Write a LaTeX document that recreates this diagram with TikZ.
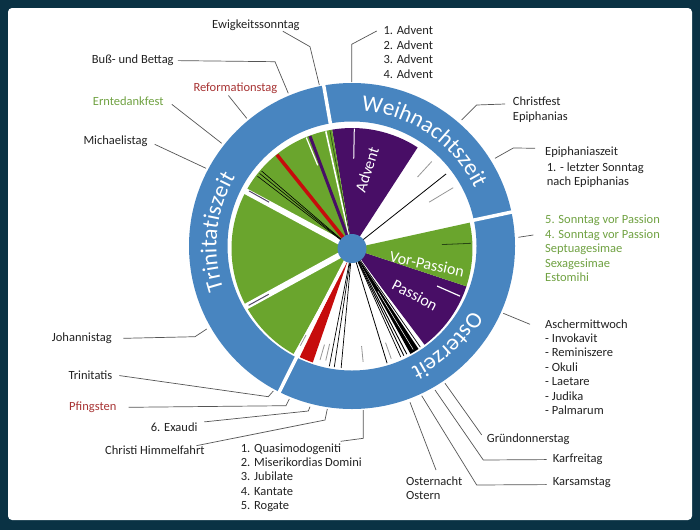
\documentclass[tikz,border=0pt]{standalone}
\usepackage{fontspec}
\setmainfont{Carlito}
\usetikzlibrary{decorations.text}
\definecolor{frameblue}{RGB}{10,50,68}
\definecolor{ringblue}{RGB}{72,133,192}
\definecolor{pgreen}{RGB}{106,165,45}
\definecolor{ppurple}{RGB}{72,14,102}
\definecolor{pred}{RGB}{198,12,12}
\definecolor{txtdark}{RGB}{34,34,34}
\definecolor{txtgreen}{RGB}{112,162,66}
\definecolor{txtred}{RGB}{168,52,52}
\definecolor{leadgray}{RGB}{85,85,85}
\definecolor{tickgray}{RGB}{150,150,150}
\definecolor{tickdark}{RGB}{80,70,100}
\definecolor{darkgreen}{RGB}{40,70,20}
\newcommand\pieSector[3]{\fill[#1] (352,248.5) -- ([pc]#2:120.5pt) arc[start angle=#2,end angle=#3,radius=120.5pt] -- cycle;}
\newcommand\pieRay[4]{\draw[#1] ([pc]#2:#3pt) -- ([pc]#2:#4pt);}
\newcommand\ringGap[1]{\draw[white,line width=3.5pt] ([rc]#1:121pt) -- ([rc]#1:166pt);}
\begin{document}
\begin{tikzpicture}[x=1pt,y=-1pt,
  pc/.style={shift={(352,248.5)}},
  rc/.style={shift={(352,246)}},
  lbl/.style={anchor=north west,inner sep=0pt,font=\fontsize{12.5}{14.4}\selectfont,text=txtdark,align=left},
  lead/.style={draw=leadgray,line width=0.7pt},
  pietext/.style={text=white,font=\fontsize{16}{16}\selectfont,inner sep=0pt},
  ringtext/.style={decorate,decoration={text along path,text align=center,text color=white,text={|\fontsize{23}{23}\selectfont|#1}}}
]
\useasboundingbox (0,0) rectangle (700,530);
% frame
\fill[frameblue] (0,0) rectangle (700,530);
\fill[white,rounded corners=4pt] (8,8) rectangle (692,520);

% outer ring
\fill[ringblue,even odd rule] (352,246) circle[radius=163pt] (352,246) circle[radius=124.5pt];
\ringGap{12}
\ringGap{100}
\ringGap{243.5}
\path[ringtext=Weihnachtszeit] ([rc]99:135.5pt) arc[start angle=99,end angle=12,radius=135.5pt];
\path[ringtext=Trinitatiszeit] ([rc]221:135.5pt) arc[start angle=221,end angle=127,radius=135.5pt];
\path[ringtext=Osterzeit] ([rc]-16:135.5pt) arc[start angle=-16,end angle=-76.6,radius=135.5pt];

% pie sectors
\pieSector{ppurple}{57}{99.5}
\pieSector{pgreen}{99.5}{152}
\pieSector{pgreen}{152}{209}
\pieSector{pgreen}{209}{241}
\pieSector{pred}{244.3}{251}
\pieSector{black}{-61}{-56.5}
\pieSector{ppurple}{-53}{-18.3}
\pieSector{pgreen}{-18.3}{12.4}

% white bands and separators
\pieRay{white,line width=6pt}{151.7}{0}{122}
\pieRay{white,line width=6pt}{-151.3}{0}{122}
\pieRay{white,line width=3.5pt}{-117.4}{0}{122}
\pieRay{white,line width=1.5pt}{-54.2}{0}{122}
\pieRay{tickdark,line width=1pt}{150.8}{95}{118}
\pieRay{tickdark,line width=1pt}{-151.2}{95}{118}

% upper-left cluster
\pieRay{black,line width=0.6pt}{139.4}{0}{119}
\pieRay{black,line width=0.6pt}{140.9}{0}{119}
\pieRay{black,line width=0.6pt}{142.6}{0}{119}
\pieRay{pred,line width=3.5pt}{128.7}{0}{120}
\pieRay{ppurple,line width=3pt}{110.5}{0}{120}
\pieRay{white,line width=1.2pt}{112.4}{90}{120}
\pieRay{white,line width=1.6pt}{102.6}{0}{120}
\pieRay{darkgreen,line width=0.6pt}{100.6}{0}{120}

% Weihnachtszeit white sector and ticks
\pieRay{black,line width=0.8pt}{38.4}{0}{120}
\pieRay{tickgray,line width=0.8pt}{47.5}{97}{118}
\pieRay{tickgray,line width=0.8pt}{31}{90}{118}
\pieRay{white,line width=1pt}{88.9}{90}{120}
\pieRay{darkgreen,line width=0.8pt}{2.5}{90}{119}
\pieRay{white,line width=1.2pt}{-23.8}{93}{118}

% Karwoche cluster and Osterzeit
\pieRay{black,line width=0.7pt}{-55.3}{0}{120}
\pieRay{white,line width=0.5pt}{-58.8}{50}{118}
\pieRay{black,line width=0.9pt}{-62.6}{0}{119}
\pieRay{black,line width=0.9pt}{-64.2}{0}{119}
\pieRay{black,line width=0.7pt}{-65.8}{0}{119}
\pieRay{tickgray,line width=0.8pt}{-70.4}{100}{117}
\pieRay{black,line width=0.8pt}{-73}{0}{120}
\pieRay{tickgray,line width=0.8pt}{-84.4}{98}{114}
\pieRay{black,line width=0.7pt}{-95.2}{0}{120}
\pieRay{black,line width=0.7pt}{-98.5}{0}{120}
\pieRay{black,line width=0.7pt}{-100.9}{0}{120}
\pieRay{tickgray,line width=0.8pt}{-103.2}{98}{115}
\pieRay{tickgray,line width=0.8pt}{-106}{100}{116}
\pieRay{tickgray,line width=0.8pt}{-118}{98}{110}

% center hub
\fill[ringblue] (352,248.5) circle[radius=14.5pt];

% pie texts
\node[pietext,rotate=72] (adv) at (367,170) {Advent};
\node[pietext,rotate=-12] (vorp) at (427,264) {Vor-Passion};
\node[pietext,rotate=-28] (pass) at (415,295) {Passion};

% labels
\node[lbl] (ewig) at (212,20) {Ewigkeitssonntag};
\node[lbl] (buss) at (91.7,55) {Buß- und Bettag};
\node[lbl,text=txtred] (refo) at (193.3,82.3) {Reformationstag};
\node[lbl,text=txtgreen] (ernte) at (92.7,96.7) {Erntedankfest};
\node[lbl] (mich) at (83.3,135.7) {Michaelistag};
\node[lbl] (advent) at (383.3,26) {1. Advent\\2. Advent\\3. Advent\\4. Advent};
\node[lbl,font=\fontsize{12.5}{15}\selectfont] (christ) at (512.7,96.7) {Christfest\\Epiphanias};
\node[lbl] (epz) at (545,146.7) {Epiphaniaszeit};
\node[lbl] (epl) at (546.7,162.7) {1. - letzter Sonntag\\nach Epiphanias};
\node[lbl,text=txtgreen] (vorpl) at (545,215) {5. Sonntag vor Passion\\4. Sonntag vor Passion\\Septuagesimae\\Sexagesimae\\Estomihi};
\node[lbl] (asch) at (545,319.3) {Aschermittwoch\\- Invokavit\\- Reminiszere\\- Okuli\\- Laetare\\- Judika\\- Palmarum};
\node[lbl] (gruen) at (486.7,433.3) {Gründonnerstag};
\node[lbl] (karf) at (552.7,454) {Karfreitag};
\node[lbl] (kars) at (552.7,477.3) {Karsamstag};
\node[lbl] (ostn) at (406,476.7) {Osternacht\\Ostern};
\node[lbl] (joh) at (51.7,332.7) {Johannistag};
\node[lbl] (trin) at (68.3,371) {Trinitatis};
\node[lbl,text=txtred] (pfing) at (69,401.7) {Pfingsten};
\node[lbl] (exau) at (150.7,422.3) {6. Exaudi};
\node[lbl] (himm) at (105,445.7) {Christi Himmelfahrt};
\node[lbl] (quasi) at (240.7,443.3) {1. Quasimodogeniti\\2. Miserikordias Domini\\3. Jubilate\\4. Kantate\\5. Rogate};

% leader end points on the ring
\coordinate (ewigE) at (319.3,85);
\coordinate (bussE) at (288.3,93.3);
\coordinate (refoE) at (246.7,118.3);
\coordinate (ernteE) at (221.7,143.3);
\coordinate (michE) at (206,168.3);
\coordinate (adventE) at (351.7,82);
\coordinate (christE) at (461.7,120);
\coordinate (epzE) at (495,158.3);
\coordinate (vorplE) at (518.3,237.3);
\coordinate (aschE) at (503.3,313.3);
\coordinate (gruenE) at (445,383.3);
\coordinate (karfE) at (435,390);
\coordinate (karsE) at (421.7,395.7);
\coordinate (ostnE) at (410,402.3);
\coordinate (johE) at (206.7,329);
\coordinate (trinE) at (273.3,391);
\coordinate (pfingE) at (289.3,399);
\coordinate (exauE) at (310,406.7);
\coordinate (himmE) at (327.3,409);
\coordinate (quasiE) at (363.3,410);

% leaders
\draw[lead] ([xshift=-17pt]ewig.south east) -- (310,46.7) -- (ewigE);
\draw[lead] ([xshift=4pt]buss.east) -- (275,61.7) -- (bussE);
\draw[lead] ([xshift=-7pt,yshift=-2pt]refo.south) -- (refoE);
\draw[lead] ([xshift=8pt,yshift=-3pt]ernte.east) -- (ernteE);
\draw[lead] ([xshift=7pt,yshift=-3pt]mich.east) -- (michE);
\draw[lead] ([xshift=-6.6pt,yshift=-5pt]advent.north west) -- (351.7,44.3) -- (adventE);
\draw[lead] ([xshift=-7.7pt,yshift=-7.3pt]christ.north west) -- (476.7,105) -- (christE);
\draw[lead] ([xshift=-10pt,yshift=4pt]epz.west) -- (513.3,148) -- (epzE);
\draw[lead] ([xshift=-11.7pt,yshift=-20pt]vorpl.north west) -- (vorplE);
\draw[lead] ([xshift=-15pt,yshift=-5pt]asch.north west) -- (aschE);
\draw[lead] ([xshift=-5pt,yshift=4pt]gruen.west) -- (gruenE);
\draw[lead] ([xshift=-6pt]karf.west) -- (483.3,460) -- (karfE);
\draw[lead] ([xshift=-6pt,yshift=-2pt]kars.west) -- (476.7,485) -- (karsE);
\draw[lead] ([xshift=30pt,yshift=6.7pt]ostn.north west) -- (ostnE);
\draw[lead] ([xshift=11.6pt]joh.east) -- (195,336.7) -- (johE);
\draw[lead] ([xshift=7pt]trin.east) -- (268.3,396.7) -- (trinE);
\draw[lead] ([xshift=12pt]pfing.east) -- (286,405.7) -- (pfingE);
\draw[lead] ([xshift=6.6pt,yshift=5pt]exau.east) -- (308.3,411) -- (exauE);
\draw[lead] ([xshift=-8.4pt]himm.north east) -- (325,420) -- (himmE);
\draw[lead] ([xshift=100pt,yshift=2pt]quasi.north west) -- (363.3,438.3) -- (quasiE);
\end{tikzpicture}
\end{document}
